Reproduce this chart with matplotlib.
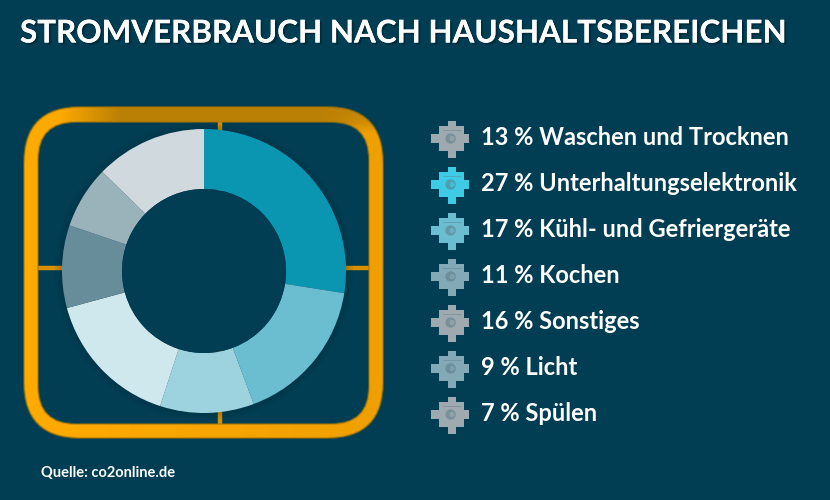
"""Stromverbrauch nach Haushaltsbereichen: Donut im Rahmen, Legende rechts."""

import matplotlib
matplotlib.use("Agg")
import matplotlib.patheffects as pe
import matplotlib.pyplot as plt
import numpy as np
from matplotlib.patches import Circle, PathPatch
from matplotlib.path import Path

W, H = 830, 500
BG = "#013e53"

# Reihenfolge im Donut (im Uhrzeigersinn ab 12 Uhr); Anteile so, wie sie im Bild gezeichnet sind
ring_values = [27.5, 16.8, 10.7, 15.8, 9.4, 7.1, 12.7]
ring_colors = ["#0a95b1", "#6bbdd0", "#9dd2df", "#cfe8ed", "#678d9a", "#9ab2b9", "#cfd9de"]

# Reihenfolge in der Legende
legend_labels = [
    "13 % Waschen und Trocknen",
    "27 % Unterhaltungselektronik",
    "17 % Kühl- und Gefriergeräte",
    "11 % Kochen",
    "16 % Sonstiges",
    "9 % Licht",
    "7 % Spülen",
]
legend_icons = ["#9eaab0", "#3dcbe6", "#6bbdd0", "#82a9b5", "#9eaab0", "#82a9b5", "#9eaab0"]


def rounded(x0, y0, x1, y1, r, reverse=False):
    """Pfad eines abgerundeten Rechtecks (Pixelkoordinaten)."""
    if reverse:
        verts = [
            (x0 + r, y0), (x0, y0), (x0, y0 + r),
            (x0, y1 - r), (x0, y1), (x0 + r, y1),
            (x1 - r, y1), (x1, y1), (x1, y1 - r),
            (x1, y0 + r), (x1, y0), (x1 - r, y0),
            (x0 + r, y0),
        ]
        codes = [Path.MOVETO, Path.CURVE3, Path.CURVE3, Path.LINETO, Path.CURVE3, Path.CURVE3,
                 Path.LINETO, Path.CURVE3, Path.CURVE3, Path.LINETO, Path.CURVE3, Path.CURVE3,
                 Path.CLOSEPOLY]
    else:
        verts = [
            (x0 + r, y0), (x1 - r, y0), (x1, y0), (x1, y0 + r),
            (x1, y1 - r), (x1, y1), (x1 - r, y1),
            (x0 + r, y1), (x0, y1), (x0, y1 - r),
            (x0, y0 + r), (x0, y0), (x0 + r, y0),
        ]
        codes = [Path.MOVETO, Path.LINETO, Path.CURVE3, Path.CURVE3, Path.LINETO, Path.CURVE3,
                 Path.CURVE3, Path.LINETO, Path.CURVE3, Path.CURVE3, Path.LINETO, Path.CURVE3,
                 Path.CURVE3]
    return Path(verts, codes)


def draw_frame(ax):
    # Stege hinter dem Donut
    for xs, ys in [((220, 220), (118, 428)), ((34, 373), (268, 268))]:
        ax.plot(xs, ys, color="#d98f00", lw=3.2, solid_capstyle="butt", zorder=1)

    # Rahmen: Verlauf, auf den Ring zugeschnitten
    yy, xx = np.mgrid[100:445, 15:392]
    top = np.clip((xx - 60) / 60, 0, 1) * np.clip((150 - yy) / 30, 0, 1)
    right = np.clip((xx - 320) / 40, 0, 1) * np.clip((yy - 100) / 60, 0, 1)
    shade = np.clip(top - right, 0, 1)[..., None]
    bright = np.array([1.0, 0.67, 0.0]) * (1 - 0.06 * np.clip((xx - 15) / 350, 0, 1))[..., None]
    dark = np.array([0.73, 0.50, 0.02])
    img = bright * (1 - shade) + dark * shade
    im = ax.imshow(img, extent=(15, 392, 445, 100), zorder=2, aspect="auto",
                   interpolation="bilinear")
    outer = rounded(24, 107, 383, 438, 56)
    inner = rounded(38, 122, 369, 424, 38, reverse=True)
    ring = Path.make_compound_path(outer, inner)
    clip = PathPatch(ring, transform=ax.transData, fc="none", ec="none")
    ax.add_patch(clip)
    im.set_clip_path(clip)

    # Wulst: dunkle Kanten
    for p in (outer, inner):
        ax.add_patch(PathPatch(p, fc="none", ec="#a87400", lw=1.4, alpha=0.55, zorder=3))


def draw_icon(ax, cy, color):
    """Puzzleteil mit kleinem Kreis in der Mitte."""
    cx = 451.6
    cy = cy + 1.5
    a, b, c = 12.4, 4.0, 4.2   # Koerper, halbe Armbreiten
    l, r, t, d = 20.6, 17.7, 17.5, 19.2   # Armlaengen
    xs = [-a, -b, -b, b, b, a, a, r, r, a, a, b, b, -b, -b, -a, -a, -l, -l, -a]
    ys = [-a, -a, -t, -t, -a, -a, -c, -c, c, c, a, a, d, d, a, a, c, c, -c, -c]
    ax.fill(cx + np.array(xs), cy + np.array(ys), color=color, lw=0, zorder=2)
    ax.plot([cx - 9, cx + 9], [cy - 9, cy - 9], color="#5f7f8c", lw=0.6, alpha=0.5, zorder=3)
    ax.add_patch(Circle((cx - 1, cy), 5.2, fc="#5f7f8c", ec="none", alpha=0.6, zorder=3))
    ax.add_patch(Circle((cx + 0.5, cy), 2.6, fc=color, ec="none", alpha=0.7, zorder=3))


fig = plt.figure(figsize=(W / 100, H / 100), dpi=100, facecolor=BG)

# Overlay in Pixelkoordinaten fuer Rahmen, Icons und Texte
bg = fig.add_axes([0, 0, 1, 1])
draw_frame(bg)
bg.set_xlim(0, W)
bg.set_ylim(H, 0)
bg.axis("off")

# Donut: Mitte (204, 271), Radius 142 px
cx, cy, r = 204, 271, 142
hole = 82 / r
axd = fig.add_axes([(cx - r) / W, 1 - (cy + r) / H, 2 * r / W, 2 * r / H])
axd.patch.set_alpha(0)
# weicher Schatten
for k, a in zip([1.05, 1.035, 1.02], [0.05, 0.06, 0.08]):
    axd.add_patch(Circle((0, 0), k, fc="#00202e", ec="none", alpha=a, clip_on=False, zorder=0))
axd.pie(
    ring_values, colors=ring_colors, startangle=90, counterclock=False, radius=1,
    wedgeprops={"width": 1 - hole, "linewidth": 0},
)
axd.add_patch(Circle((0, 0), hole, fc=BG, ec="none", zorder=5))
axd.set_xlim(-1, 1)
axd.set_ylim(-1, 1)

FONT = "Lato"
bg.text(
    20, 33.5, "STROMVERBRAUCH NACH HAUSHALTSBEREICHEN", color="white", fontsize=22.6,
    fontweight="bold", family=FONT, va="center", ha="left",
    path_effects=[pe.withSimplePatchShadow(offset=(1.5, -1.5), shadow_rgbFace="#00202e", alpha=0.6), pe.Normal()],
)

for i, (label, col) in enumerate(zip(legend_labels, legend_icons)):
    y = 137 + i * 46
    draw_icon(bg, y, col)
    bg.text(481, y + 0.5, label, color="white", fontsize=17, fontweight="bold",
            family=FONT, va="center", ha="left")

bg.text(41, 473, "Quelle: co2online.de", color="white", fontsize=10.5,
        fontweight="bold", family=FONT, va="center", ha="left")

fig.savefig("out.png", dpi=100, facecolor=BG)
